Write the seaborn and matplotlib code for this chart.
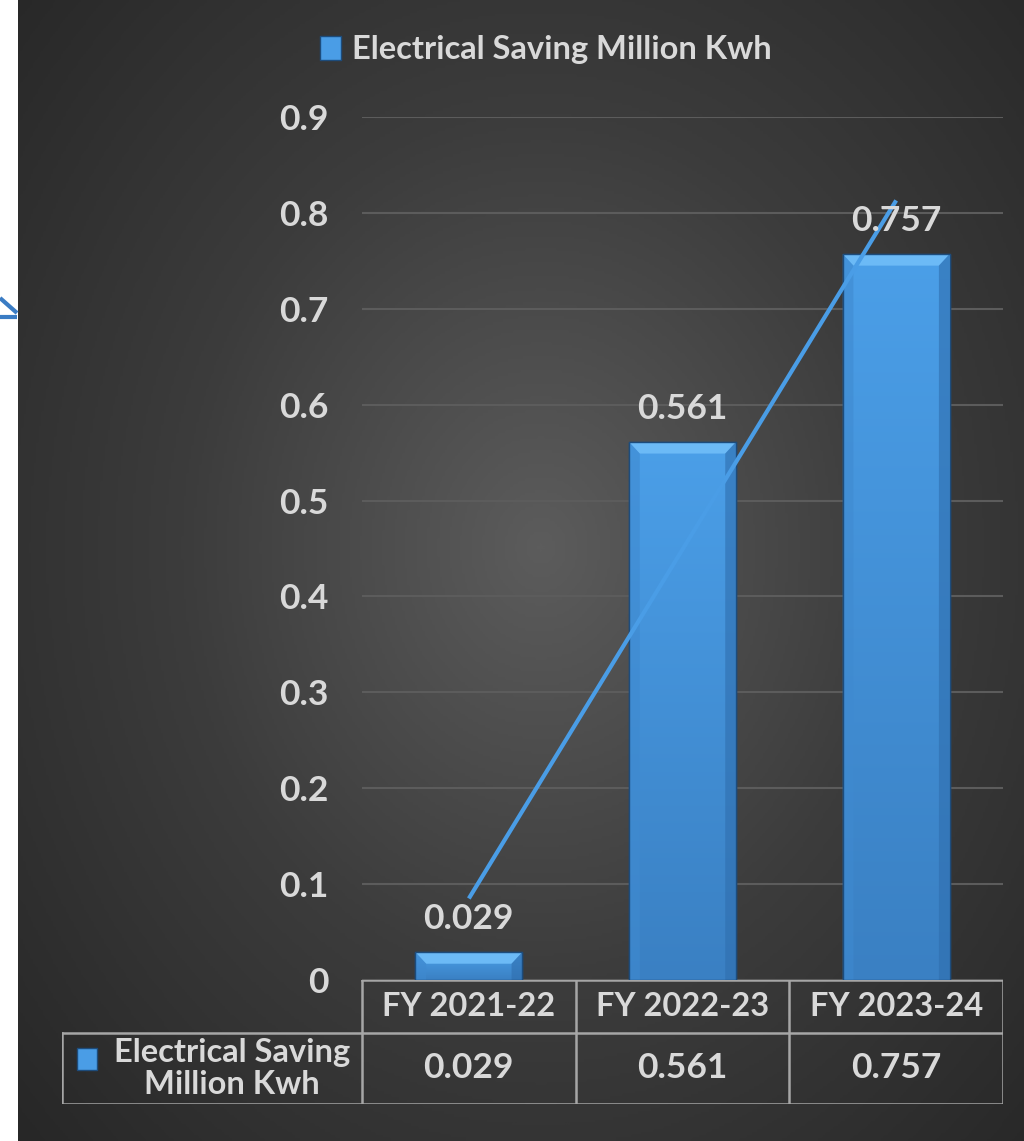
import numpy as np
import pandas as pd
import matplotlib
matplotlib.use("Agg")
import matplotlib.pyplot as plt
import seaborn as sns
from matplotlib.patches import Patch, Rectangle, Polygon
from matplotlib.colors import LinearSegmentedColormap

# data
years = ["FY 2021-22", "FY 2022-23", "FY 2023-24"]
saving = [0.029, 0.561, 0.757]
series_name = "Electrical Saving Million Kwh"
row_label = "Electrical Saving\nMillion Kwh"
yticks = [0, 0.1, 0.2, 0.3, 0.4, 0.5, 0.6, 0.7, 0.8, 0.9]

sns.set_theme(style="dark")
plt.rcParams['font.family'] = ['Lato', 'DejaVu Sans']
plt.rcParams['font.weight'] = 'bold'

TXT = "#d9d9d9"
GRID = "#5c5c5c"
BLUE = "#4a9de6"
LINE = "#a6a6a6"
FS = 23.5      # words
FSN = 25.5     # numbers

W, H = 1024, 1141
fig = plt.figure(figsize=(W / 100, H / 100), dpi=100)
fig.patch.set_facecolor("white")

# background: radial dark grey gradient, white strip on the left
bg = fig.add_axes([18 / W, 0, 1 - 18 / W, 1])
bg.set_axis_off()
yy, xx = np.mgrid[0:1:400j, 0:1:400j]
r = np.sqrt(((xx - 0.52) / 0.75) ** 2 + ((yy - 0.52) / 0.8) ** 2)
bg_cmap = LinearSegmentedColormap.from_list("bg", ["#5c5c5c", "#3c3c3c", "#272727"])
bg.imshow(np.clip(r, 0, 1), cmap=bg_cmap, extent=[0, 1, 0, 1], aspect="auto", origin="lower")
bg.set_xlim(0, 1)
bg.set_ylim(0, 1)

# little cut-off arrow on the left margin
arr = fig.add_axes([0, 0, 1, 1], facecolor="none")
arr.set_axis_off()
arr.set_xlim(0, W)
arr.set_ylim(H, 0)
arr.plot([0, 17], [298, 313], color="#3a7cc4", lw=3, solid_capstyle="butt")
arr.plot([0, 17], [317, 317], color="#3a7cc4", lw=3, solid_capstyle="butt")

# main chart
ax = fig.add_axes([362 / W, (H - 980) / H, 641 / W, 863 / H])
ax.set_facecolor("none")
df = pd.DataFrame({"year": years, "saving": saving})
sns.barplot(data=df, x="year", y="saving", ax=ax, color=BLUE, width=0.5,
            edgecolor="#1d4c7c", linewidth=1, saturation=1, zorder=3)

bar_cmap = LinearSegmentedColormap.from_list("bar", ["#3a80c3", "#4b9fe8"])
grad = np.linspace(0, 1, 256).reshape(-1, 1)
for p in ax.patches:
    x0, y0 = p.get_x(), p.get_y()
    w, h = p.get_width(), p.get_height()
    im = ax.imshow(grad, cmap=bar_cmap, extent=[x0, x0 + w, y0, y0 + h],
                   aspect="auto", origin="lower", zorder=3.5)
    im.set_clip_path(p)
    dx, dy = 0.05, 0.012
    top = y0 + h
    ax.add_patch(Polygon([[x0, top], [x0 + w, top], [x0 + w - dx, top - dy], [x0 + dx, top - dy]],
                         closed=True, facecolor="#6cbaf6", edgecolor="none", zorder=4))
    ax.add_patch(Polygon([[x0, top], [x0 + dx, top - dy], [x0 + dx, y0], [x0, y0]],
                         closed=True, facecolor="#3f8ad0", edgecolor="none", zorder=4, alpha=0.6))
    ax.add_patch(Polygon([[x0 + w, top], [x0 + w - dx, top - dy], [x0 + w - dx, y0], [x0 + w, y0]],
                         closed=True, facecolor="#2f6eae", edgecolor="none", zorder=4, alpha=0.6))
    ax.add_patch(Rectangle((x0, y0), w, h, facecolor="none", edgecolor="#1d4c7c", lw=1, zorder=4.5))

# data labels
for i, v in enumerate(saving):
    ax.text(i, v + 0.018, f"{v:.3f}", ha="center", va="bottom", color=TXT,
            fontsize=FSN, fontweight="bold", zorder=6)

# linear trendline
xi = np.arange(len(saving))
k, b = np.polyfit(xi, saving, 1)
ax.plot(xi, k * xi + b, color="#4a9de6", lw=3, zorder=5, solid_capstyle="butt")

ax.set_xlim(-0.5, 2.5)
ax.set_ylim(0, 0.9)
ax.set_yticks(yticks)
ax.set_yticklabels(["0"] + [f"{t:.1f}" for t in yticks[1:]], color=TXT, fontsize=FSN, fontweight="bold")
ax.tick_params(axis="y", length=0, pad=24)
ax.set_xticks([])
ax.set_xlabel("")
ax.set_ylabel("")
ax.yaxis.grid(True, color=GRID, lw=1.5)
ax.set_axisbelow(True)
for s in ax.spines.values():
    s.set_visible(False)

# legend on top
fig.legend(handles=[Patch(facecolor=BLUE, edgecolor="#1d4c7c")], labels=[series_name],
           loc="center", bbox_to_anchor=(0.533, 1 - 50 / H), frameon=False,
           labelcolor=TXT, handlelength=0.65, handleheight=0.75, handletextpad=0.35,
           prop={"weight": "bold", "size": FS})

# data table under the chart
unit = 641 / 3
tx = fig.add_axes([62 / W, (H - 1104) / H, 941 / W, 124 / H], facecolor="none")
tx.set_axis_off()
left = -0.5 - 300 / unit
tx.set_xlim(left, 2.5)
tx.set_ylim(0, 124)
hdr = 71
kw = dict(color=LINE, lw=1.8, solid_capstyle="projecting")
tx.plot([-0.5, 2.5], [124, 124], **kw)
tx.plot([left, 2.5], [hdr, hdr], **kw)
tx.plot([left, 2.5], [0, 0], **kw)
tx.plot([left, left], [0, hdr], **kw)
for xb in [-0.5, 0.5, 1.5, 2.5]:
    tx.plot([xb, xb], [0, 124], **kw)
for i, (yr, v) in enumerate(zip(years, saving)):
    tx.text(i, (hdr + 124) / 2, yr, ha="center", va="center", color=TXT, fontsize=FS, fontweight="bold")
    tx.text(i, hdr / 2, f"{v:.3f}", ha="center", va="center", color=TXT, fontsize=FSN, fontweight="bold")
lab_x = left + 170 / unit
tx.text(lab_x, hdr / 2, row_label, ha="center", va="center", multialignment="center",
        color=TXT, fontsize=FS, fontweight="bold", linespacing=1.1)
tx.add_patch(Rectangle((left + 15 / unit, 34), 20 / unit, 22, facecolor=BLUE, edgecolor="#1d4c7c", lw=1))

fig.savefig("out.png", dpi=100, facecolor=fig.get_facecolor())
